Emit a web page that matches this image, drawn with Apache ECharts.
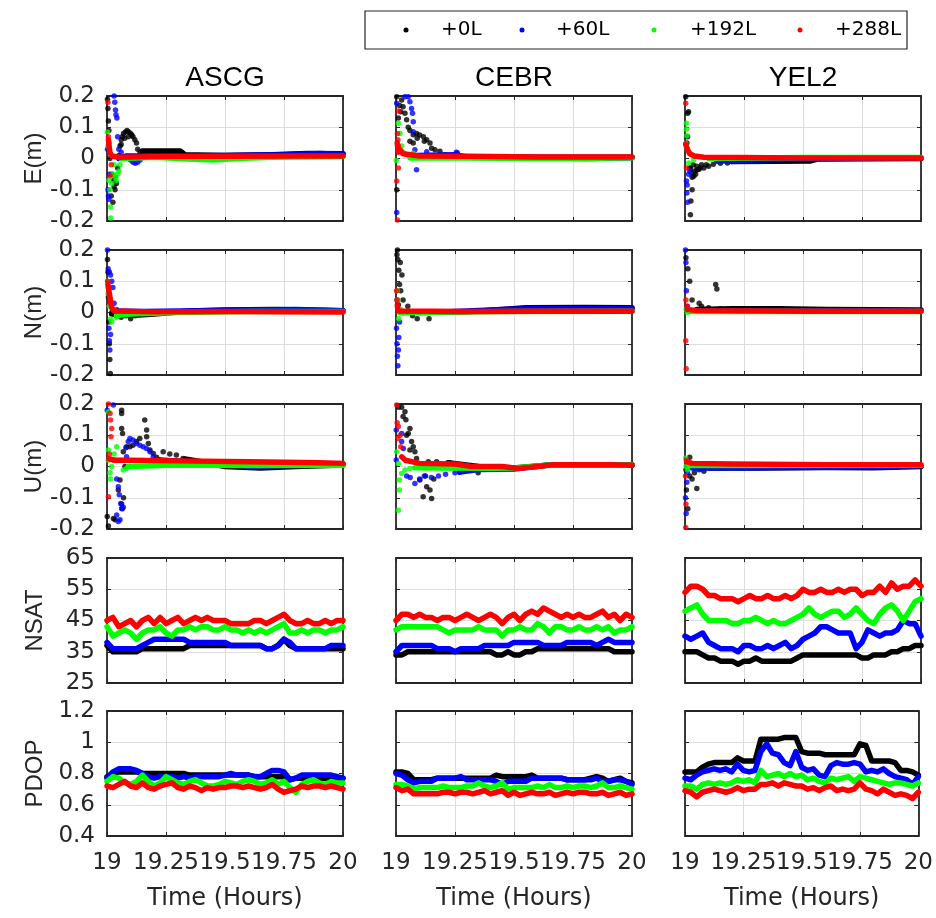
<!DOCTYPE html>
<html>
<head>
<meta charset="utf-8">
<title>PPP convergence</title>
<script src="https://cdn.jsdelivr.net/npm/echarts@6.0.0/dist/echarts.min.js"></script>
<style>
html,body{margin:0;padding:0;background:#ffffff;}
#chart{width:936px;height:918px;}
</style>
</head>
<body>
<div id="chart"></div>
<script>
// ---------- categories / labels ----------
const STATIONS = ['ASCG', 'CEBR', 'YEL2'];
const LEVELS = ['+0L', '+60L', '+192L', '+288L'];
const ROW_NAMES = ['E(m)', 'N(m)', 'U(m)', 'NSAT', 'PDOP'];
const X_TITLE = 'Time (Hours)';

// common time grid for NSAT / PDOP (hours)
const TIME = [19,19.025,19.05,19.075,19.1,19.125,19.15,19.175,19.2,19.225,19.25,19.275,19.3,19.325,19.35,19.375,19.4,19.425,19.45,19.475,19.5,19.525,19.55,19.575,19.6,19.625,19.65,19.675,19.7,19.725,19.75,19.775,19.8,19.825,19.85,19.875,19.9,19.925,19.95,19.975,20];

// ---------- E (m) : scattered convergence points + steady tail ----------
const eASCG0 = [[19.002,0.19],[19.004,0.16],[19.006,0.12],[19.008,0.09],[19.012,0.0],[19.018,-0.12],[19.02,-0.05],[19.025,-0.14],[19.028,-0.07],[19.03,-0.09],[19.034,-0.1],[19.036,-0.06],[19.04,-0.08],[19.045,-0.03],[19.05,0.01],[19.055,0.04],[19.06,0.06],[19.065,0.07],[19.07,0.08],[19.078,0.085],[19.085,0.09],[19.092,0.085],[19.1,0.08],[19.11,0.07],[19.118,0.06],[19.125,0.05],[19.13,0.03],[19.14,0.02],[19.06,0.045],[19.075,0.065],[19.09,0.07],[19.105,0.075]];
const eASCG0Tail = [[19.15,0.024],[19.31,0.024],[19.33,0.012],[19.5,0.01],[19.7,0.012],[19.85,0.016],[20,0.015]];
const eASCG60 = [[19.002,0.03],[19.004,-0.1],[19.006,-0.12],[19.008,-0.13],[19.01,-0.05],[19.03,0.2],[19.033,0.18],[19.036,0.155],[19.038,0.14],[19.042,0.13],[19.045,0.07],[19.05,0.03],[19.06,0.02],[19.1,-0.005],[19.11,-0.012],[19.12,-0.015],[19.13,-0.012],[19.14,-0.005]];
const eASCG60Tail = [[19.05,0.0],[19.08,0.008],[19.3,0.008],[19.5,0.01],[19.75,0.012],[19.9,0.016],[20,0.014]];
const eASCG192 = [[19.001,0.085],[19.004,0.04],[19.008,-0.07],[19.012,-0.1],[19.015,-0.155],[19.016,-0.19],[19.02,-0.08],[19.025,-0.05],[19.03,-0.02],[19.035,-0.06],[19.04,-0.07],[19.045,-0.05],[19.05,-0.04],[19.055,-0.02]];
const eASCG192Tail = [[19.06,0.0],[19.2,0.004],[19.35,-0.002],[19.45,-0.005],[19.55,0.0],[19.7,0.004],[20,0.006]];
const eASCG288 = [[19.004,0.18],[19.006,0.07],[19.008,0.05],[19.01,0.03],[19.013,-0.055],[19.018,-0.02]];
const eASCG288Tail = [[19.006,0.06],[19.012,0.02],[19.02,0.008],[19.05,0.004],[19.2,0.006],[19.5,0.007],[19.8,0.008],[20,0.008]];

const eCEBR0 = [[19.003,0.198],[19.024,0.187],[19.03,0.166],[19.038,0.145],[19.045,0.124],[19.052,0.1],[19.059,0.09],[19.073,0.076],[19.087,0.08],[19.1,0.075],[19.116,0.07],[19.13,0.06],[19.144,0.05],[19.151,0.033],[19.165,0.028],[19.186,0.023],[19.207,0.012],[19.01,0.13],[19.003,-0.1],[19.059,0.055],[19.073,0.05],[19.09,0.065],[19.12,0.055],[19.015,0.17],[19.02,0.15]];
const eCEBR0Tail = [[19.21,0.01],[19.3,0.006],[19.6,0.004],[20,0.004]];
const eCEBR60 = [[19.003,0.177],[19.038,0.198],[19.052,0.198],[19.059,0.182],[19.066,0.16],[19.07,0.145],[19.073,0.118],[19.073,0.086],[19.08,0.028],[19.087,-0.036],[19.003,-0.173],[19.13,0.022],[19.256,0.02],[19.26,0.018]];
const eCEBR60Tail = [[19.09,0.01],[19.25,0.012],[19.3,0.004],[19.6,0.002],[19.8,0.0],[20,0.002]];
const eCEBR192 = [[19.01,0.113],[19.017,0.08],[19.001,-0.006],[19.024,0.04],[19.073,0.017],[19.03,0.02],[19.05,0.01]];
const eCEBR192Tail = [[19.06,0.002],[19.3,0.002],[19.6,0.0],[19.8,0.0],[20,0.002]];
const eCEBR288 = [[19.01,0.152],[19.006,0.08],[19.008,0.06],[19.01,0.04],[19.01,-0.03],[19.003,-0.072],[19.006,-0.197]];
const eCEBR288Tail = [[19.005,0.05],[19.01,0.02],[19.017,0.028],[19.03,0.015],[19.1,0.008],[19.3,0.007],[19.6,0.005],[20,0.005]];

const eYEL20 = [[19.003,0.198],[19.011,0.145],[19.015,0.15],[19.008,0.05],[19.023,-0.03],[19.03,-0.1],[19.025,-0.136],[19.023,-0.18],[19.037,-0.057],[19.051,-0.036],[19.065,-0.03],[19.1,-0.025],[19.18,-0.014],[19.03,-0.06],[19.045,-0.05],[19.02,-0.03],[19.028,-0.045],[19.035,-0.02],[19.042,-0.04],[19.05,-0.025],[19.058,-0.035],[19.07,-0.02],[19.08,-0.03],[19.09,-0.02],[19.12,-0.018],[19.15,-0.015],[19.011,0.07]];
const eYEL20Tail = [[19.2,-0.01],[19.53,-0.008],[19.56,-0.002],[20,0.0]];
const eYEL260 = [[19.006,-0.072],[19.008,-0.11],[19.011,-0.14],[19.015,-0.05],[19.02,-0.04],[19.009,-0.085],[19.135,-0.009]];
const eYEL260Tail = [[19.14,-0.008],[19.3,-0.005],[19.6,0.0],[20,0.002]];
const eYEL2192 = [[19.006,0.113],[19.006,0.094],[19.008,0.073],[19.003,0.048],[19.008,0.033],[19.016,-0.014],[19.037,-0.005],[19.135,0.002]];
const eYEL2192Tail = [[19.1,0.0],[19.5,0.003],[20,0.003]];
const eYEL2288 = [[19.003,0.177],[19.006,-0.03]];
const eYEL2288Tail = [[19.003,0.045],[19.01,0.03],[19.02,0.015],[19.04,0.008],[19.08,0.004],[19.5,0.002],[20,0.002]];

// ---------- N (m) ----------
const nASCG0 = [[19.002,0.17],[19.004,0.13],[19.006,0.05],[19.008,-0.03],[19.01,-0.1],[19.012,-0.15],[19.014,-0.195],[19.02,0.0],[19.04,-0.01],[19.06,-0.015],[19.08,-0.01],[19.1,-0.02],[19.12,-0.01]];
const nASCG0Tail = [[19.02,-0.005],[19.1,-0.01],[19.2,-0.005],[19.35,0.005],[19.5,0.008],[19.7,0.01],[19.85,0.008],[20,0.006]];
const nASCG60 = [[19.002,0.2],[19.005,0.14],[19.01,0.13],[19.015,0.12],[19.02,0.1],[19.025,0.08],[19.008,-0.05],[19.01,-0.09],[19.012,-0.12],[19.015,-0.07],[19.03,0.03],[19.04,0.01],[19.05,-0.01]];
const nASCG60Tail = [[19.04,0.005],[19.15,0.003],[19.4,0.006],[19.6,0.008],[19.8,0.01],[20,0.006]];
const nASCG192 = [[19.002,0.1],[19.005,0.06],[19.01,0.02],[19.015,-0.02],[19.02,-0.03],[19.03,0.01],[19.04,-0.015],[19.06,-0.005]];
const nASCG192Tail = [[19.04,-0.01],[19.1,-0.005],[19.3,0.0],[19.6,0.003],[20,0.003]];
const nASCG288 = [[19.003,0.1],[19.006,0.08],[19.01,0.05],[19.015,0.03]];
const nASCG288Tail = [[19.004,0.09],[19.01,0.06],[19.02,0.015],[19.03,0.005],[19.2,0.002],[19.5,0.003],[20,0.002]];

const nCEBR0 = [[19.004,0.185],[19.006,0.2],[19.008,0.17],[19.012,0.135],[19.015,0.09],[19.02,0.07],[19.01,0.025],[19.03,0.04],[19.05,0.02],[19.06,0.0],[19.07,-0.01],[19.09,-0.02],[19.14,-0.02],[19.025,0.12],[19.018,0.16]];
const nCEBR0Tail = [[19.1,0.0],[19.3,0.002],[19.45,0.01],[19.55,0.015],[19.8,0.016],[20,0.015]];
const nCEBR60 = [[19.002,-0.05],[19.004,-0.1],[19.006,-0.14],[19.008,-0.17],[19.01,-0.12],[19.005,0.04],[19.012,-0.08],[19.015,-0.03]];
const nCEBR60Tail = [[19.03,0.0],[19.2,0.002],[19.45,0.01],[19.6,0.013],[20,0.013]];
const nCEBR192 = [[19.005,0.07],[19.008,0.04],[19.012,-0.02],[19.015,0.0],[19.02,0.01]];
const nCEBR192Tail = [[19.02,0.0],[19.5,0.003],[20,0.004]];
const nCEBR288 = [[19.002,0.07],[19.004,0.04],[19.006,0.025]];
const nCEBR288Tail = [[19.006,0.02],[19.01,0.005],[19.3,0.003],[19.6,0.004],[20,0.004]];

const nYEL20 = [[19.004,0.175],[19.012,0.14],[19.02,0.1],[19.03,0.04],[19.06,0.03],[19.07,0.02],[19.1,0.015],[19.13,0.09],[19.135,0.075],[19.15,0.012]];
const nYEL20Tail = [[19.05,0.01],[19.2,0.012],[19.4,0.012],[19.6,0.01],[20,0.008]];
const nYEL260 = [[19.002,0.2],[19.004,0.16],[19.006,0.07],[19.01,0.02]];
const nYEL260Tail = [[19.02,0.005],[19.5,0.005],[20,0.005]];
const nYEL2192 = [[19.005,0.01],[19.01,0.0]];
const nYEL2192Tail = [[19.02,0.003],[20,0.003]];
const nYEL2288 = [[19.003,-0.09],[19.005,-0.18],[19.004,0.04],[19.008,0.02]];
const nYEL2288Tail = [[19.01,0.01],[19.05,0.006],[19.5,0.004],[20,0.004]];

// ---------- U (m) ----------
const uASCG0 = [[19.001,-0.16],[19.006,-0.19],[19.027,-0.166],[19.034,-0.17],[19.062,0.18],[19.062,0.17],[19.062,0.122],[19.066,0.106],[19.069,0.047],[19.076,0.0],[19.055,-0.043],[19.048,-0.075],[19.062,-0.12],[19.07,-0.1],[19.065,-0.135],[19.083,0.063],[19.097,0.063],[19.11,0.068],[19.125,0.08],[19.139,0.09],[19.16,0.149],[19.168,0.117],[19.168,0.095],[19.175,0.074],[19.182,0.053],[19.196,0.042],[19.21,0.03],[19.238,0.047],[19.266,0.04],[19.294,0.037],[19.322,0.026]];
const uASCG0Tail = [[19.33,0.024],[19.4,0.015],[19.5,0.0],[19.65,-0.005],[19.8,0.0],[20,0.005]];
const uASCG60 = [[19.001,0.18],[19.027,0.197],[19.034,0.02],[19.041,-0.04],[19.048,-0.065],[19.052,-0.09],[19.058,-0.118],[19.062,-0.134],[19.055,-0.17],[19.048,-0.176],[19.041,-0.155],[19.069,-0.13],[19.083,0.031],[19.08,0.06],[19.09,0.08],[19.097,0.09],[19.11,0.085],[19.125,0.074],[19.139,0.068],[19.153,0.063],[19.167,0.058],[19.182,0.047],[19.196,0.031],[19.224,0.021]];
const uASCG60Tail = [[19.22,0.021],[19.35,0.015],[19.5,0.01],[19.6,0.0],[19.8,0.003],[20,0.006]];
const uASCG192 = [[19.006,0.175],[19.006,0.053],[19.013,-0.02],[19.015,-0.04],[19.006,0.02],[19.041,0.063],[19.055,0.02],[19.069,-0.011],[19.083,-0.006],[19.03,0.04],[19.02,0.0]];
const uASCG192Tail = [[19.09,0.0],[19.3,0.005],[19.6,0.003],[20,0.004]];
const uASCG288 = [[19.006,0.2],[19.013,0.17],[19.015,0.149],[19.02,0.122],[19.017,0.095],[19.006,-0.097],[19.01,0.04]];
const uASCG288Tail = [[19.008,0.025],[19.03,0.02],[19.1,0.02],[19.3,0.018],[19.6,0.015],[19.9,0.012],[20,0.01]];

const uCEBR0 = [[19.024,0.19],[19.038,0.175],[19.042,0.15],[19.059,0.122],[19.052,0.106],[19.066,0.08],[19.073,0.063],[19.059,0.053],[19.08,0.047],[19.087,0.026],[19.101,-0.043],[19.115,-0.097],[19.13,-0.065],[19.144,-0.075],[19.151,-0.102],[19.137,0.015],[19.172,0.015],[19.228,0.012],[19.348,-0.02],[19.16,-0.04],[19.125,-0.03],[19.045,0.1],[19.1,0.0],[19.01,0.19],[19.03,0.16]];
const uCEBR0Tail = [[19.22,0.012],[19.35,0.0],[19.5,-0.005],[19.65,0.005],[20,0.005]];
const uCEBR60 = [[19.001,0.117],[19.001,0.021],[19.024,0.106],[19.024,0.08],[19.031,0.058],[19.045,-0.03],[19.06,-0.035],[19.08,-0.054],[19.1,-0.04],[19.12,-0.03],[19.15,-0.035],[19.18,-0.03],[19.21,-0.025],[19.25,-0.02],[19.27,-0.018]];
const uCEBR60Tail = [[19.27,-0.018],[19.35,-0.01],[19.5,-0.008],[19.65,0.005],[20,0.005]];
const uCEBR192 = [[19.003,0.047],[19.01,0.01],[19.014,-0.043],[19.014,-0.075],[19.01,-0.14],[19.024,-0.022],[19.038,-0.011],[19.059,-0.006]];
const uCEBR192Tail = [[19.08,-0.004],[19.2,-0.005],[19.4,-0.006],[19.5,-0.005],[19.65,0.005],[20,0.005]];
const uCEBR288 = [[19.003,0.197],[19.01,0.128],[19.017,0.1],[19.02,0.063],[19.005,0.14],[19.008,0.09]];
const uCEBR288Tail = [[19.024,0.031],[19.04,0.02],[19.1,0.01],[19.25,0.008],[19.32,0.0],[19.45,0.0],[19.52,-0.006],[19.6,0.0],[19.67,0.006],[19.9,0.006],[20,0.004]];

const uYEL20 = [[19.004,-0.01],[19.006,-0.075],[19.012,-0.135],[19.02,-0.03],[19.03,-0.04],[19.04,-0.02],[19.06,-0.01],[19.08,-0.015],[19.02,0.03],[19.05,-0.07]];
const uYEL20Tail = [[19.1,-0.005],[19.3,-0.005],[19.6,-0.003],[19.8,-0.004],[20,0.0]];
const uYEL260 = [[19.002,-0.1],[19.005,-0.15],[19.008,-0.05],[19.01,-0.02]];
const uYEL260Tail = [[19.03,-0.005],[19.3,-0.004],[19.7,-0.002],[20,0.002]];
const uYEL2192 = [[19.003,0.027],[19.005,0.0],[19.01,-0.01]];
const uYEL2192Tail = [[19.02,0.003],[20,0.004]];
const uYEL2288 = [[19.002,-0.03],[19.003,-0.195],[19.004,-0.12],[19.006,0.02]];
const uYEL2288Tail = [[19.008,0.015],[19.03,0.01],[19.2,0.008],[19.6,0.006],[20,0.006]];

// ---------- NSAT (on TIME grid) ----------
const nsatASCG0 = [37,35,35,35,35,35,36,36,36,36,36,36,36,36,37,37,37,37,37,37,37,37,37,37,37,37,37,36,36,37,39,37,36,36,36,36,36,36,36,36,36];
const nsatASCG60 = [38,36,36,36,36,36,37,38,39,39,39,39,39,39,38,38,38,38,38,38,38,37,37,37,37,37,37,36,36,37,39,38,36,36,36,36,36,36,37,37,37];
const nsatASCG192 = [43,40,41,42,41,39,41,42,42,43,41,40,42,42,43,42,43,43,42,42,43,42,42,41,42,41,42,41,42,43,44,41,41,42,41,42,42,41,42,42,43];
const nsatASCG288 = [45,46,43,44,45,43,45,46,44,46,44,45,46,44,45,46,45,46,45,45,45,44,44,44,44,45,45,44,45,46,47,45,44,44,45,44,44,45,44,45,45];

const nsatCEBR0 = [34,34,35,35,35,35,35,35,35,35,35,35,35,35,35,35,35,34,34,35,34,34,35,35,36,36,36,36,36,36,36,36,36,36,36,36,36,35,35,35,35];
const nsatCEBR60 = [35,37,37,37,37,37,37,36,36,36,35,36,36,36,36,37,37,37,37,37,38,38,38,38,38,37,37,37,37,38,38,38,38,38,37,38,39,38,38,38,38];
const nsatCEBR192 = [42,43,43,43,43,43,43,43,42,41,42,42,42,42,43,42,42,42,40,42,42,43,42,42,44,43,41,43,43,42,42,43,42,42,43,42,43,41,42,42,43];
const nsatCEBR288 = [45,47,47,46,47,46,46,45,46,46,45,46,47,46,45,46,47,46,44,46,47,45,47,48,47,49,48,47,46,47,46,47,46,46,47,48,46,47,45,47,46];

const nsatYEL20 = [35,35,35,34,33,33,32,32,32,31,32,32,33,32,32,32,32,32,32,33,34,34,34,34,34,34,34,34,34,34,33,33,34,34,34,35,35,36,36,37,37];
const nsatYEL260 = [40,39,40,41,38,37,36,36,36,35,37,37,36,36,37,36,37,38,36,37,39,40,41,43,43,42,41,41,41,36,38,42,41,40,41,41,42,45,44,44,40];
const nsatYEL2192 = [48,49,50,47,45,45,45,45,44,44,45,45,46,45,44,45,44,44,45,46,47,49,47,46,47,48,48,46,47,49,47,45,44,47,49,50,48,45,48,51,52];
const nsatYEL2288 = [54,56,56,55,53,53,52,52,52,51,52,53,52,52,53,52,52,53,52,53,55,54,54,55,54,54,55,54,55,55,53,54,54,56,54,57,55,56,56,58,56];

// ---------- PDOP (on TIME grid) ----------
const pdopASCG0 = [0.78,0.8,0.81,0.81,0.81,0.81,0.8,0.8,0.8,0.8,0.8,0.8,0.8,0.8,0.79,0.79,0.79,0.79,0.79,0.79,0.79,0.79,0.79,0.79,0.79,0.78,0.78,0.78,0.78,0.78,0.78,0.76,0.77,0.77,0.77,0.77,0.77,0.77,0.77,0.77,0.77];
const pdopASCG60 = [0.77,0.81,0.83,0.83,0.83,0.82,0.8,0.78,0.77,0.78,0.78,0.78,0.77,0.78,0.77,0.78,0.78,0.78,0.78,0.78,0.79,0.8,0.79,0.79,0.79,0.78,0.78,0.8,0.82,0.82,0.81,0.76,0.77,0.79,0.79,0.79,0.79,0.79,0.79,0.78,0.77];
const pdopASCG192 = [0.75,0.78,0.77,0.74,0.73,0.75,0.79,0.75,0.72,0.74,0.78,0.76,0.74,0.73,0.75,0.76,0.74,0.72,0.72,0.73,0.75,0.74,0.73,0.75,0.76,0.75,0.73,0.74,0.76,0.73,0.75,0.71,0.68,0.73,0.75,0.76,0.74,0.73,0.75,0.74,0.74];
const pdopASCG288 = [0.72,0.71,0.73,0.75,0.72,0.71,0.74,0.71,0.7,0.72,0.73,0.74,0.71,0.7,0.72,0.71,0.69,0.71,0.7,0.71,0.71,0.72,0.72,0.71,0.72,0.71,0.7,0.71,0.73,0.7,0.68,0.69,0.7,0.72,0.71,0.72,0.72,0.71,0.72,0.71,0.7];

const pdopCEBR0 = [0.81,0.81,0.8,0.76,0.76,0.76,0.76,0.77,0.77,0.77,0.77,0.77,0.77,0.77,0.77,0.77,0.77,0.79,0.78,0.78,0.78,0.78,0.78,0.79,0.77,0.77,0.77,0.77,0.77,0.76,0.76,0.76,0.76,0.77,0.78,0.77,0.75,0.76,0.77,0.75,0.74];
const pdopCEBR60 = [0.8,0.79,0.76,0.74,0.75,0.75,0.75,0.77,0.77,0.77,0.77,0.78,0.76,0.76,0.76,0.76,0.76,0.75,0.73,0.75,0.75,0.75,0.75,0.77,0.77,0.77,0.77,0.77,0.77,0.76,0.76,0.76,0.76,0.76,0.77,0.75,0.75,0.76,0.76,0.75,0.73];
const pdopCEBR192 = [0.73,0.73,0.72,0.7,0.71,0.71,0.71,0.71,0.72,0.71,0.71,0.71,0.72,0.72,0.74,0.72,0.71,0.72,0.74,0.7,0.71,0.71,0.71,0.71,0.72,0.71,0.73,0.71,0.71,0.72,0.71,0.72,0.72,0.71,0.72,0.74,0.71,0.71,0.72,0.71,0.7];
const pdopCEBR288 = [0.71,0.69,0.7,0.67,0.67,0.67,0.67,0.67,0.68,0.68,0.67,0.68,0.68,0.67,0.68,0.69,0.67,0.68,0.69,0.66,0.68,0.66,0.67,0.68,0.67,0.67,0.68,0.66,0.67,0.68,0.67,0.68,0.68,0.67,0.67,0.68,0.66,0.67,0.68,0.66,0.67];

const pdopYEL20 = [0.81,0.81,0.81,0.84,0.86,0.87,0.87,0.87,0.87,0.9,0.88,0.88,0.88,1.02,1.02,1.02,1.02,1.03,1.03,1.03,0.94,0.93,0.93,0.93,0.92,0.92,0.92,0.92,0.92,0.92,0.99,0.98,0.88,0.88,0.88,0.88,0.87,0.82,0.82,0.81,0.79];
const pdopYEL260 = [0.77,0.76,0.79,0.81,0.82,0.83,0.82,0.83,0.81,0.86,0.82,0.81,0.82,0.94,0.99,0.93,0.92,0.87,0.85,0.94,0.84,0.82,0.83,0.79,0.78,0.85,0.87,0.86,0.86,0.87,0.86,0.81,0.82,0.81,0.83,0.8,0.78,0.77,0.76,0.73,0.78];
const pdopYEL2192 = [0.72,0.72,0.7,0.73,0.74,0.73,0.74,0.73,0.74,0.76,0.75,0.76,0.74,0.82,0.78,0.79,0.8,0.78,0.8,0.78,0.79,0.76,0.77,0.75,0.74,0.77,0.76,0.77,0.78,0.75,0.78,0.77,0.76,0.75,0.74,0.73,0.74,0.74,0.73,0.72,0.74];
const pdopYEL2288 = [0.69,0.68,0.65,0.68,0.69,0.7,0.69,0.68,0.69,0.71,0.69,0.7,0.7,0.73,0.73,0.74,0.72,0.74,0.73,0.72,0.72,0.7,0.71,0.69,0.71,0.72,0.69,0.7,0.69,0.7,0.74,0.7,0.69,0.67,0.7,0.68,0.66,0.67,0.66,0.64,0.68];

// ---------- assembly ----------
const ENU_PTS = [
  [[eASCG0,eASCG60,eASCG192,eASCG288],[eCEBR0,eCEBR60,eCEBR192,eCEBR288],[eYEL20,eYEL260,eYEL2192,eYEL2288]],
  [[nASCG0,nASCG60,nASCG192,nASCG288],[nCEBR0,nCEBR60,nCEBR192,nCEBR288],[nYEL20,nYEL260,nYEL2192,nYEL2288]],
  [[uASCG0,uASCG60,uASCG192,uASCG288],[uCEBR0,uCEBR60,uCEBR192,uCEBR288],[uYEL20,uYEL260,uYEL2192,uYEL2288]]
];
const ENU_TAIL = [
  [[eASCG0Tail,eASCG60Tail,eASCG192Tail,eASCG288Tail],[eCEBR0Tail,eCEBR60Tail,eCEBR192Tail,eCEBR288Tail],[eYEL20Tail,eYEL260Tail,eYEL2192Tail,eYEL2288Tail]],
  [[nASCG0Tail,nASCG60Tail,nASCG192Tail,nASCG288Tail],[nCEBR0Tail,nCEBR60Tail,nCEBR192Tail,nCEBR288Tail],[nYEL20Tail,nYEL260Tail,nYEL2192Tail,nYEL2288Tail]],
  [[uASCG0Tail,uASCG60Tail,uASCG192Tail,uASCG288Tail],[uCEBR0Tail,uCEBR60Tail,uCEBR192Tail,uCEBR288Tail],[uYEL20Tail,uYEL260Tail,uYEL2192Tail,uYEL2288Tail]]
];
const NSAT = [[nsatASCG0,nsatASCG60,nsatASCG192,nsatASCG288],[nsatCEBR0,nsatCEBR60,nsatCEBR192,nsatCEBR288],[nsatYEL20,nsatYEL260,nsatYEL2192,nsatYEL2288]];
const PDOP = [[pdopASCG0,pdopASCG60,pdopASCG192,pdopASCG288],[pdopCEBR0,pdopCEBR60,pdopCEBR192,pdopCEBR288],[pdopYEL20,pdopYEL260,pdopYEL2192,pdopYEL2288]];

const COLORS = ['#000000', '#0000ff', '#00ff00', '#ff0000'];
const FONT = '"Liberation Sans", Arial, Helvetica, sans-serif';
const WFONT = '"DejaVu Sans", Verdana, sans-serif';
const AX = '#262626';
const GRIDC = '#dedede';
const COL_LEFT = [107, 396, 685];
const COL_W = 236;
const ROW_TOP = [96, 250, 404, 558, 711];
const ROW_H = 125;
const Y_RANGE = [[-0.2, 0.2, 0.1], [-0.2, 0.2, 0.1], [-0.2, 0.2, 0.1], [25, 65, 10], [0.4, 1.2, 0.2]];

const grids = [], xAxes = [], yAxes = [], series = [];
for (let r = 0; r < 5; r++) {
  for (let c = 0; c < 3; c++) {
    const gi = grids.length;
    grids.push({ left: COL_LEFT[c], top: ROW_TOP[r], width: COL_W, height: ROW_H });
    const bottom = r === 4, left = c === 0;
    const [ymin, ymax, yint] = Y_RANGE[r];
    const tick = { show: true, inside: true, length: 4, lineStyle: { color: AX, width: 1 } };
    const line = { show: true, onZero: false, lineStyle: { color: AX, width: 1.8 } };
    xAxes.push({
      gridIndex: gi, type: 'value', position: 'bottom', min: 19, max: 20, interval: 0.25,
      axisLine: line, axisTick: tick,
      axisLabel: { show: bottom, fontSize: 23, color: AX, fontFamily: WFONT, margin: 16 },
      splitLine: { show: true, lineStyle: { color: GRIDC, width: 1 } },
      name: bottom ? X_TITLE : '', nameLocation: 'middle', nameGap: 51,
      nameTextStyle: { fontSize: 24, color: AX, fontFamily: WFONT }
    });
    xAxes.push({
      gridIndex: gi, type: 'value', position: 'top', min: 19, max: 20, interval: 0.25,
      axisLine: line, axisTick: tick, axisLabel: { show: false }, splitLine: { show: false }
    });
    yAxes.push({
      gridIndex: gi, type: 'value', position: 'left', min: ymin, max: ymax, interval: yint,
      axisLine: line, axisTick: tick,
      axisLabel: { show: left, fontSize: 23, color: AX, fontFamily: WFONT, margin: 12 },
      splitLine: { show: true, lineStyle: { color: GRIDC, width: 1 } },
      name: left ? ROW_NAMES[r] : '', nameLocation: 'middle', nameGap: 60,
      nameTextStyle: { fontSize: 24, color: AX, fontFamily: FONT }
    });
    yAxes.push({
      gridIndex: gi, type: 'value', position: 'right', min: ymin, max: ymax, interval: yint,
      axisLine: line, axisTick: tick, axisLabel: { show: false }, splitLine: { show: false }
    });
    const xi = 2 * gi, yi = 2 * gi;
    for (let k = 0; k < 4; k++) {
      if (r < 3) {
        series.push({
          name: LEVELS[k], type: 'scatter', xAxisIndex: xi, yAxisIndex: yi,
          data: ENU_PTS[r][c][k], symbol: 'circle', symbolSize: 5.5, z: 2 + k,
          itemStyle: { color: COLORS[k] }, silent: true, clip: true
        });
        series.push({
          name: LEVELS[k], type: 'line', xAxisIndex: xi, yAxisIndex: yi,
          data: ENU_TAIL[r][c][k], showSymbol: false, symbol: 'none', z: 2 + k,
          lineStyle: { color: COLORS[k], width: 5.5, cap: 'round', join: 'round' }, silent: true, clip: true
        });
      } else {
        const vals = (r === 3 ? NSAT : PDOP)[c][k];
        series.push({
          name: LEVELS[k], type: 'line', xAxisIndex: xi, yAxisIndex: yi,
          data: TIME.map((t, i) => [t, vals[i]]), showSymbol: false, symbol: 'none', z: 2 + k,
          lineStyle: { color: COLORS[k], width: 5.5, cap: 'round', join: 'round' }, silent: true, clip: true
        });
      }
    }
  }
}

// titles and legend
const graphic = [];
STATIONS.forEach((s, c) => {
  graphic.push({ type: 'text', x: COL_LEFT[c] + COL_W / 2, y: 78, z: 10,
    style: { text: s, fontSize: 28, fontFamily: FONT, fill: '#000', align: 'center', verticalAlign: 'middle' } });
});
graphic.push({ type: 'rect', shape: { x: 365, y: 11, width: 542, height: 38 }, z: 10,
  style: { fill: '#fff', stroke: AX, lineWidth: 1.2 } });
const LEG_DOT_X = [406, 522, 654, 800];
const LEG_TXT_X = [441, 556, 690, 835];
LEVELS.forEach((lv, k) => {
  graphic.push({ type: 'circle', shape: { cx: LEG_DOT_X[k], cy: 30, r: 2.5 }, z: 11, style: { fill: COLORS[k] } });
  graphic.push({ type: 'text', x: LEG_TXT_X[k], y: 30, z: 11,
    style: { text: lv, fontSize: 20, fontFamily: WFONT, fill: '#000', align: 'left', verticalAlign: 'middle' } });
});

const chart = echarts.init(document.getElementById('chart'), null, { renderer: 'canvas', width: 936, height: 918 });
chart.setOption({
  backgroundColor: '#ffffff',
  animation: false,
  grid: grids,
  xAxis: xAxes,
  yAxis: yAxes,
  series: series,
  graphic: graphic
});
</script>
</body>
</html>
